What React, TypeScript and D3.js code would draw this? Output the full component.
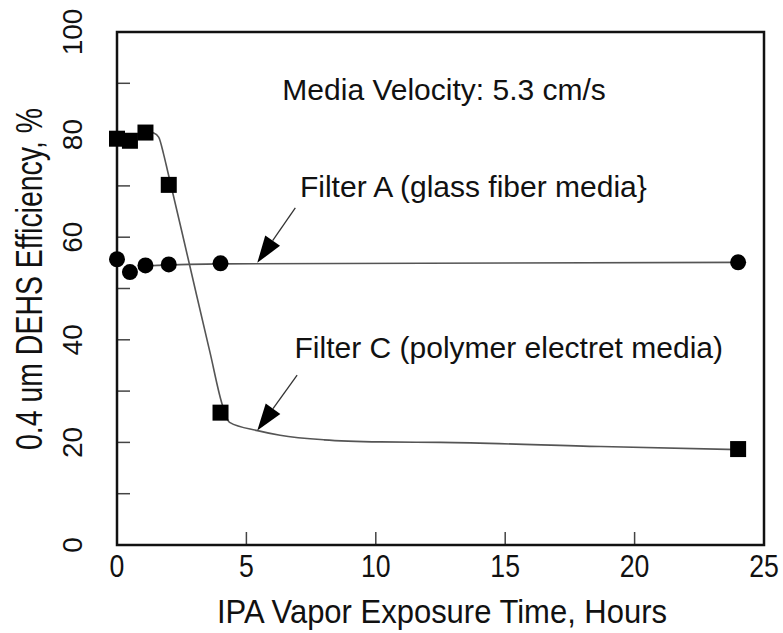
import React, { useEffect, useRef } from 'react';
import * as d3 from 'd3';

// measured points (hours, efficiency %)
const hours = [0, 0.5, 1.1, 2, 4, 24];
const filterA = [55.7, 53.2, 54.5, 54.7, 54.9, 55.1];
const filterC = [79.2, 78.8, 80.4, 70.2, 25.8, 18.7];

// fitted curves as drawn in the figure
const fitAHours = [1.1, 4, 24];
const fitAValues = [54.4, 54.8, 55.1];
const fitCHours = [1.1, 1.42, 1.61, 1.8, 1.96, 2.5, 3.09, 3.6, 4.06, 4.35, 5.43, 6.3, 8, 10.2, 12.5, 18.7, 24];
const fitCValues = [80.6, 80.3, 79.5, 76.2, 72.8, 61.2, 48.4, 37.4, 27.5, 23.9, 22.3, 21.4, 20.5, 20.1, 20.0, 19.2, 18.6];

const xTicks = [0, 5, 10, 15, 20, 25];
const yTicks = [0, 20, 40, 60, 80, 100];
const yMinor = [10, 20, 30, 40, 50, 60, 70, 80, 90];
const xMinor = [5, 10, 15, 20];

// annotations: text position, arrow start and tip, in data units
const labels = ['Media Velocity: 5.3 cm/s', 'Filter A (glass fiber media}', 'Filter C (polymer electret media)'];
const labelX = [6.39, 7.07, 6.86];
const labelY = [86.7, 67.8, 36.5];
const arrowFrom = [null, [6.89, 65.7], [6.96, 33.1]];
const arrowTo = [null, [5.42, 55.0], [5.42, 22.3]];

const width = 783;
const height = 633;
const font = '"Liberation Sans", Arial, Helvetica, sans-serif';

const App = () => {
  const svgRef = useRef(null);

  const xScale = d3.scaleLinear().domain([0, 25]).range([117, 764]);
  const yScale = d3.scaleLinear().domain([0, 100]).range([545, 32]);

  useEffect(() => {
    const svg = d3.select(svgRef.current);
    svg.selectAll('*').remove();

    const [x0, x1] = xScale.range();
    const [y0, y1] = yScale.range();

    // ticks (inward)
    svg
      .selectAll('.ytick')
      .data(yMinor)
      .enter()
      .append('line')
      .attr('x1', x0)
      .attr('x2', x0 + 13)
      .attr('y1', (d) => yScale(d))
      .attr('y2', (d) => yScale(d))
      .attr('stroke', '#444')
      .attr('stroke-width', 1.5);

    svg
      .selectAll('.xtick')
      .data(xMinor)
      .enter()
      .append('line')
      .attr('x1', (d) => xScale(d))
      .attr('x2', (d) => xScale(d))
      .attr('y1', y0)
      .attr('y2', y0 - 13)
      .attr('stroke', '#444')
      .attr('stroke-width', 1.5);

    // frame
    svg
      .append('rect')
      .attr('x', x0)
      .attr('y', y1)
      .attr('width', x1 - x0)
      .attr('height', y0 - y1)
      .attr('fill', 'none')
      .attr('stroke', '#111')
      .attr('stroke-width', 2.5);

    // tick labels
    svg
      .selectAll('.xlab')
      .data(xTicks)
      .enter()
      .append('text')
      .attr('transform', (d) => `translate(${xScale(d)},577) scale(0.86,1)`)
      .attr('text-anchor', 'middle')
      .attr('font-family', font)
      .attr('font-size', 31)
      .attr('fill', '#111')
      .text((d) => d);

    svg
      .selectAll('.ylab')
      .data(yTicks)
      .enter()
      .append('text')
      .attr('transform', (d) => `translate(82,${yScale(d)}) rotate(-90)`)
      .attr('text-anchor', 'middle')
      .attr('font-family', font)
      .attr('font-size', 28)
      .attr('fill', '#111')
      .text((d) => d);

    // axis titles
    svg
      .append('text')
      .attr('x', 442)
      .attr('y', 623)
      .attr('text-anchor', 'middle')
      .attr('font-family', font)
      .attr('font-size', 33.5)
      .attr('textLength', 450)
      .attr('lengthAdjust', 'spacingAndGlyphs')
      .attr('fill', '#111')
      .text('IPA Vapor Exposure Time, Hours');

    svg
      .append('text')
      .attr('transform', 'translate(42,279) rotate(-90)')
      .attr('text-anchor', 'middle')
      .attr('font-family', font)
      .attr('font-size', 36)
      .attr('textLength', 342)
      .attr('lengthAdjust', 'spacingAndGlyphs')
      .attr('fill', '#111')
      .text('0.4 um DEHS Efficiency, %');

    // fitted curves
    const line = d3
      .line()
      .x((d) => xScale(d[0]))
      .y((d) => yScale(d[1]))
      .curve(d3.curveMonotoneX);

    svg
      .append('path')
      .datum(fitAHours.map((h, i) => [h, fitAValues[i]]))
      .attr('fill', 'none')
      .attr('stroke', '#555')
      .attr('stroke-width', 1.6)
      .attr('d', line);

    svg
      .append('path')
      .datum(fitCHours.map((h, i) => [h, fitCValues[i]]))
      .attr('fill', 'none')
      .attr('stroke', '#555')
      .attr('stroke-width', 1.6)
      .attr('d', line);

    // markers
    svg
      .selectAll('.circ')
      .data(hours)
      .enter()
      .append('circle')
      .attr('cx', (d) => xScale(d))
      .attr('cy', (d, i) => yScale(filterA[i]))
      .attr('r', 8)
      .attr('fill', '#000');

    svg
      .selectAll('.sq')
      .data(hours)
      .enter()
      .append('rect')
      .attr('x', (d) => xScale(d) - 8)
      .attr('y', (d, i) => yScale(filterC[i]) - 8)
      .attr('width', 16)
      .attr('height', 16)
      .attr('fill', '#000');

    // annotations
    labels.forEach((t, i) => {
      svg
        .append('text')
        .attr('x', xScale(labelX[i]))
        .attr('y', yScale(labelY[i]))
        .attr('font-family', font)
        .attr('font-size', 30)
        .attr('fill', '#111')
        .text(t);

      const from = arrowFrom[i];
      const to = arrowTo[i];
      if (!from || !to) return;
      const fx = xScale(from[0]);
      const fy = yScale(from[1]);
      const tx = xScale(to[0]);
      const ty = yScale(to[1]);
      const ang = Math.atan2(ty - fy, tx - fx);
      const headLen = 27;
      const headHalf = 9;
      const bx = tx - headLen * Math.cos(ang);
      const by = ty - headLen * Math.sin(ang);
      const px = -Math.sin(ang) * headHalf;
      const py = Math.cos(ang) * headHalf;

      svg
        .append('line')
        .attr('x1', fx)
        .attr('y1', fy)
        .attr('x2', bx)
        .attr('y2', by)
        .attr('stroke', '#333')
        .attr('stroke-width', 1.3);

      svg
        .append('path')
        .attr('d', `M${tx},${ty}L${bx + px},${by + py}L${bx - px},${by - py}Z`)
        .attr('fill', '#000');
    });
  }, []);

  return (
    <svg
      ref={svgRef}
      width={width}
      height={height}
      style={{ position: 'absolute', left: 0, top: 0, background: '#fff' }}
    />
  );
};

export default App;
